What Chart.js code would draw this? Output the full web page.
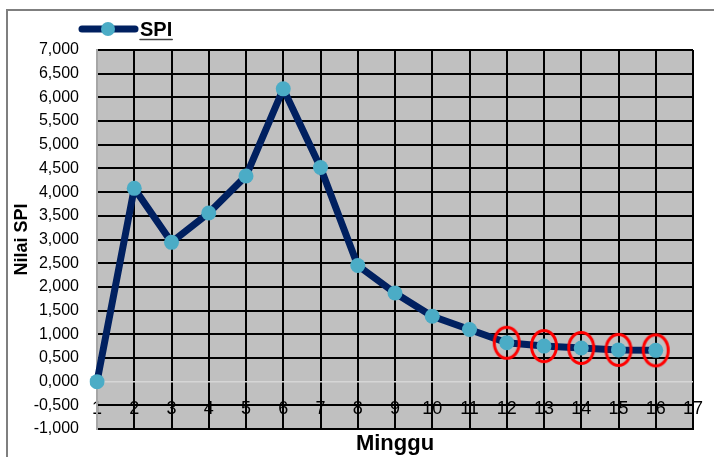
<!DOCTYPE html>
<html>
<head>
<meta charset="utf-8">
<script src="https://cdn.jsdelivr.net/npm/chart.js@4.4.1/dist/chart.umd.min.js"></script>
<style>
  html, body { margin: 0; padding: 0; background: #fff; }
  #wrap { width: 714px; height: 457px; }
</style>
</head>
<body>
<div id="wrap"><canvas id="myChart"></canvas></div>
<script>
// minggu ke- (sumbu x), nilai SPI per minggu, minggu yang ditandai
const weekLabels = ['1','2','3','4','5','6','7','8','9','10','11','12','13','14','15','16','17'];
const spiValues = [0, 4.08, 2.94, 3.56, 4.34, 6.18, 4.52, 2.45, 1.87, 1.38, 1.10, 0.82, 0.75, 0.71, 0.67, 0.66];
const markedWeeks = ['12','13','14','15','16'];

const lineColor = '#002060';
const dotColor = '#4bacc6';
const sans = '"Liberation Sans", Arial, sans-serif';

// red ring used as point style for the marked weeks
function ringImage () {
  const c = document.createElement('canvas');
  c.width = 32; c.height = 38;
  const g = c.getContext('2d');
  g.strokeStyle = '#ff0000';
  g.lineWidth = 3;
  g.beginPath();
  g.ellipse(16, 19, 12.5, 15.5, 0, 0, Math.PI * 2);
  g.stroke();
  return c;
}

const markedData = spiValues.map((v, i) => markedWeeks.includes(weekLabels[i]) ? v : null);

// grey plot background + outer frame
const frame = {
  id: 'frame',
  beforeDraw(chart) {
    const {ctx, chartArea: a} = chart;
    ctx.save();
    ctx.fillStyle = '#c0c0c0';
    ctx.fillRect(a.left, a.top, a.right - a.left, a.bottom - a.top);
    ctx.strokeStyle = '#7f7f7f';
    ctx.lineWidth = 2;
    ctx.strokeRect(7, 10, chart.width + 10, chart.height + 10);
    ctx.restore();
  }
};

// legend: line with marker, underlined series name
const legendBox = {
  id: 'legendBox',
  afterDraw(chart) {
    const ctx = chart.ctx;
    const ds = chart.data.datasets[1];
    ctx.save();
    ctx.strokeStyle = ds.borderColor;
    ctx.lineWidth = 7;
    ctx.lineCap = 'round';
    ctx.beginPath();
    ctx.moveTo(82, 29);
    ctx.lineTo(135, 29);
    ctx.stroke();
    ctx.fillStyle = ds.pointBackgroundColor;
    ctx.beginPath();
    ctx.arc(108, 29, 7, 0, Math.PI * 2);
    ctx.fill();
    ctx.fillStyle = '#000';
    ctx.font = 'bold 20px ' + sans;
    ctx.textBaseline = 'alphabetic';
    ctx.fillText(ds.label, 140, 36);
    const w = ctx.measureText(ds.label).width;
    ctx.strokeStyle = '#404040';
    ctx.lineWidth = 1.5;
    ctx.beginPath();
    ctx.moveTo(140, 39.5);
    ctx.lineTo(140 + w, 39.5);
    ctx.stroke();
    ctx.restore();
  }
};

const data = {
  labels: weekLabels,
  datasets: [{
    label: 'Ditandai',
    data: markedData,
    showLine: false,
    pointStyle: ringImage(),
    pointRadius: 16,
    order: 0
  }, {
    label: 'SPI',
    data: spiValues,
    borderColor: lineColor,
    borderWidth: 7,
    borderJoinStyle: 'round',
    pointRadius: 7.5,
    pointBackgroundColor: dotColor,
    pointBorderWidth: 0,
    tension: 0,
    order: 1
  }]
};

const config = {
  type: 'line',
  data: data,
  options: {
    responsive: true,
    maintainAspectRatio: false,
    animation: false,
    layout: {
      padding: { top: 50, left: 0, right: 21, bottom: 0 }
    },
    plugins: {
      legend: false,
      tooltip: { enabled: false }
    },
    scales: {
      x: {
        type: 'category',
        offset: false,
        afterFit: s => { s.height = 28; },
        grid: {
          offset: false,
          drawTicks: false,
          color: c => c.index === 0 ? '#a6a6a6' : '#000',
          lineWidth: 2
        },
        border: { color: '#000', width: 2 },
        ticks: {
          // mirrored so the week numbers sit on the -0,5 gridline
          mirror: true,
          color: '#000',
          padding: 9,
          maxRotation: 0,
          autoSkip: false,
          font: { family: sans, size: 18 }
        },
        title: {
          display: true,
          text: 'Minggu',
          color: '#000',
          padding: { top: 0, bottom: 0 },
          font: { family: sans, size: 22, weight: 'bold' }
        }
      },
      y: {
        min: -1,
        max: 7,
        afterFit: s => { s.width = 97; },
        grid: {
          drawTicks: false,
          color: c => c.tick && c.tick.value === 0 ? '#d6d6d6' : '#000',
          lineWidth: c => c.tick && c.tick.value === 0 ? 1.5 : 2
        },
        border: { color: '#a6a6a6', width: 2 },
        ticks: {
          stepSize: 0.5,
          autoSkip: false,
          color: '#000',
          padding: 18,
          font: { family: sans, size: 16 },
          callback: v => v.toFixed(3).replace('.', ',')
        },
        title: {
          display: true,
          text: 'Nilai SPI',
          color: '#000',
          padding: { top: 11, bottom: 0 },
          font: { family: sans, size: 18, weight: 'bold' }
        }
      }
    }
  },
  plugins: [frame, legendBox]
};

const myChart = new Chart(document.getElementById('myChart'), config);
</script>
</body>
</html>
